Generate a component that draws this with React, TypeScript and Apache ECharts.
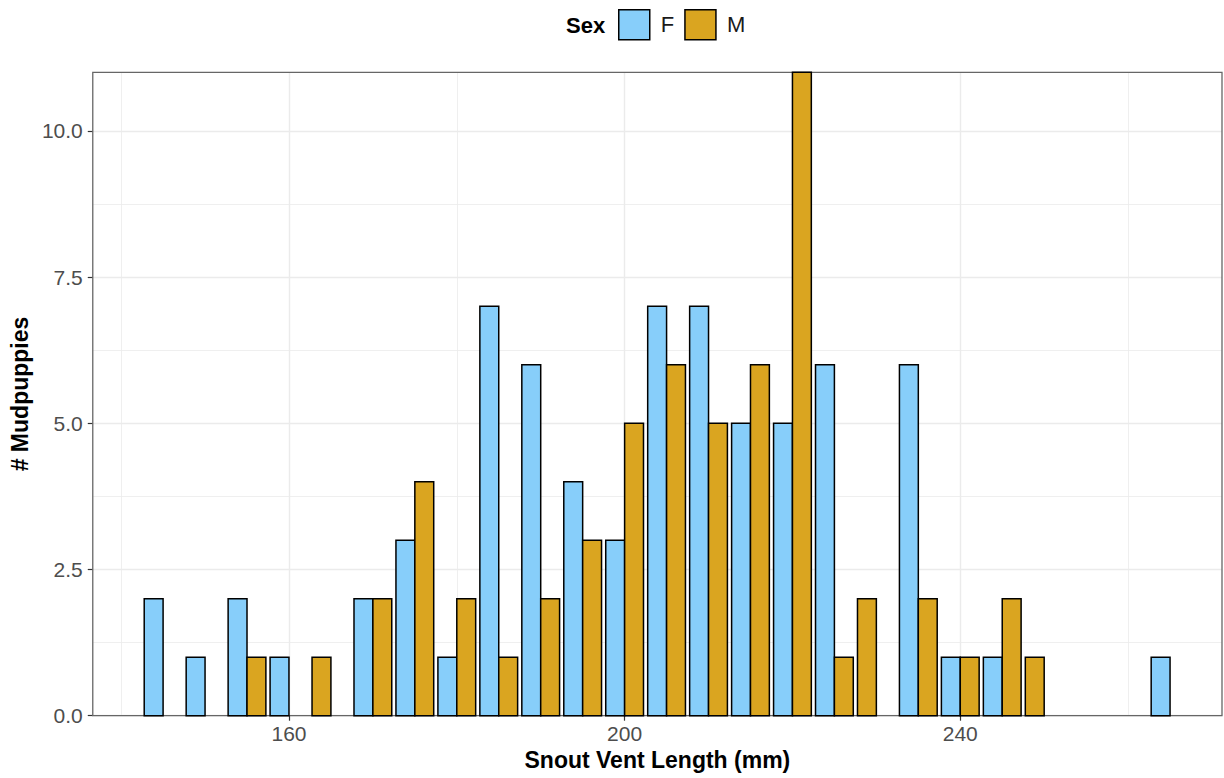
import React, { useEffect, useRef } from "react";
import * as echarts from "echarts";

// Histogram bins (bin centres, mm) and counts per sex
const binCenters = [145, 150, 155, 160, 165, 170, 175, 180, 185, 190, 195, 200, 205, 210, 215, 220, 225, 230, 235, 240, 245, 250, 255, 260, 265];
const femaleCounts = [2, 1, 2, 1, 0, 2, 3, 1, 7, 6, 4, 3, 7, 7, 5, 5, 6, 0, 6, 1, 1, 0, 0, 0, 1];
const maleCounts = [0, 0, 1, 0, 1, 2, 4, 2, 1, 2, 3, 5, 6, 5, 6, 11, 1, 2, 2, 1, 2, 1, 0, 0, 0];
const sexLevels = ["F", "M"];
const sexColors = ["#87CEFA", "#DAA520"];

const yMajor = [0, 2.5, 5, 7.5, 10];
const yMinor = [1.25, 3.75, 6.25, 8.75];
const xMajor = [160, 200, 240];
const xMinor = [140, 180, 220, 260];

const X_MIN = 136.62;
const X_MAX = 271.19;
const Y_MAX = 11;
const DODGE_WIDTH = 4.5;

const FONT = "'Liberation Sans', Arial, Helvetica, sans-serif";

export default function App() {
  const ref = useRef<HTMLDivElement>(null);

  useEffect(() => {
    if (!ref.current) return;
    const chart = echarts.init(ref.current, undefined, { renderer: "svg" });

    const fData = binCenters
      .map((c, i) => [c, femaleCounts[i], 0])
      .filter((d) => d[1] > 0);
    const mData = binCenters
      .map((c, i) => [c, maleCounts[i], femaleCounts[i] > 0 ? 1 : 0])
      .filter((d) => d[1] > 0);

    const barW = DODGE_WIDTH / 2;
    const makeRender = (color: string) => (params: any, api: any) => {
      const c = api.value(0) as number;
      const v = api.value(1) as number;
      const slot = api.value(2) as number;
      const left = c - DODGE_WIDTH / 2 + slot * barW;
      const p0 = api.coord([left, v]);
      const p1 = api.coord([left + barW, 0]);
      return {
        type: "rect",
        shape: { x: p0[0], y: p0[1], width: p1[0] - p0[0], height: p1[1] - p0[1] },
        style: { fill: color, stroke: "#000000", lineWidth: 1.5 },
      };
    };

    const hiddenAxisBits = {
      axisLine: { show: false },
      axisLabel: { show: false },
    };

    chart.setOption({
      animation: false,
      textStyle: { fontFamily: FONT },
      legend: {
        data: sexLevels,
        left: 618,
        top: 9,
        padding: 0,
        icon: "rect",
        itemWidth: 31,
        itemHeight: 30,
        itemGap: 10,
        itemStyle: { borderColor: "#000000", borderWidth: 1.5 },
        textStyle: { fontSize: 22, color: "#1a1a1a", fontFamily: FONT, padding: [0, 0, 0, 6] },
        selectedMode: false,
      },
      graphic: [
        {
          type: "text",
          left: 566,
          top: 14,
          style: { text: "Sex", font: `bold 22px ${FONT}`, fill: "#000000" },
        },
      ],
      grid: {
        left: 91.5,
        right: 2,
        top: 72.3,
        bottom: 62.3,
        show: true,
        z: 1,
        borderColor: "#666666",
        borderWidth: 1.3,
        backgroundColor: "transparent",
      },
      xAxis: [
        {
          type: "value",
          min: X_MIN,
          max: X_MAX,
          z: 0,
          axisLine: { show: false },
          axisTick: { show: true, customValues: xMajor, length: 5, lineStyle: { color: "#333333", width: 1.2 } },
          axisLabel: {
            customValues: xMajor,
            color: "#4D4D4D",
            fontSize: 21,
            margin: 7,
            formatter: (v: number) => String(Math.round(v)),
          },
          splitLine: { show: true, lineStyle: { color: "#EBEBEB", width: 1.4 } },
          name: "Snout Vent Length (mm)",
          nameLocation: "middle",
          nameGap: 32,
          nameTextStyle: { fontSize: 23, fontWeight: "bold", color: "#000000", fontFamily: FONT },
        },
        {
          type: "value",
          min: X_MIN,
          max: X_MAX,
          z: 0,
          ...hiddenAxisBits,
          axisTick: { show: false, customValues: xMinor },
          splitLine: { show: true, lineStyle: { color: "#EBEBEB", width: 0.8 } },
        },
      ],
      yAxis: [
        {
          type: "value",
          min: 0,
          max: Y_MAX,
          z: 0,
          axisLine: { show: false },
          axisTick: { show: true, customValues: yMajor, length: 5, lineStyle: { color: "#333333", width: 1.2 } },
          axisLabel: {
            customValues: yMajor,
            color: "#4D4D4D",
            fontSize: 21,
            margin: 10,
            formatter: (v: number) => v.toFixed(1),
          },
          splitLine: { show: true, lineStyle: { color: "#EBEBEB", width: 1.4 } },
          name: "# Mudpuppies",
          nameLocation: "middle",
          nameGap: 58,
          nameTextStyle: { fontSize: 23, fontWeight: "bold", color: "#000000", fontFamily: FONT },
        },
        {
          type: "value",
          min: 0,
          max: Y_MAX,
          z: 0,
          ...hiddenAxisBits,
          axisTick: { show: false, customValues: yMinor },
          splitLine: { show: true, lineStyle: { color: "#EBEBEB", width: 0.8 } },
        },
      ],
      series: [
        {
          name: sexLevels[0],
          type: "custom",
          xAxisIndex: 0,
          yAxisIndex: 0,
          itemStyle: { color: sexColors[0], borderColor: "#000000", borderWidth: 1.5 },
          encode: { x: 0, y: 1 },
          renderItem: makeRender(sexColors[0]),
          data: fData,
          z: 5,
        },
        {
          name: sexLevels[1],
          type: "custom",
          xAxisIndex: 0,
          yAxisIndex: 0,
          itemStyle: { color: sexColors[1], borderColor: "#000000", borderWidth: 1.5 },
          encode: { x: 0, y: 1 },
          renderItem: makeRender(sexColors[1]),
          data: mData,
          z: 5,
        },
      ],
    });

    return () => chart.dispose();
  }, []);

  return (
    <div
      ref={ref}
      style={{ position: "absolute", left: 0, top: 0, width: 1224, height: 778, background: "#ffffff" }}
    />
  );
}
